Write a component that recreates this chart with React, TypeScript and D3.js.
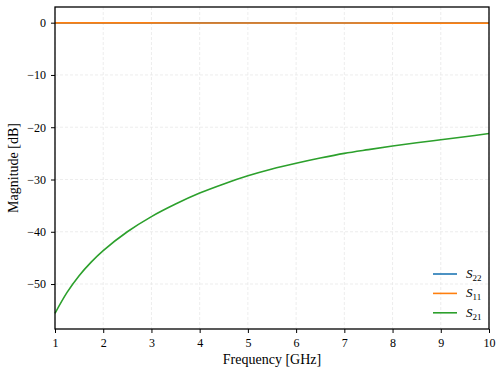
import * as d3 from "d3";
import { useEffect, useRef } from "react";

// frequency points (GHz)
const freq = [1, 1.25, 1.5, 1.75, 2, 2.5, 3, 3.5, 4, 4.5, 5, 5.5, 6, 6.5, 7, 7.5, 8, 8.5, 9, 9.5, 10];
const s21 = [-55.6, -51.6, -48.4, -45.8, -43.6, -40.0, -37.1, -34.7, -32.6, -30.85, -29.3, -28.0, -26.9, -25.9, -25.0, -24.28, -23.6, -22.98, -22.4, -21.82, -21.2];
// reflection terms stay flat near 0 dB
const freqFlat = [1, 4, 7, 10];
const s22 = [-0.03, -0.04, -0.06, -0.08];
const s11 = [-0.04, -0.05, -0.07, -0.09];

const xTicks = [1, 2, 3, 4, 5, 6, 7, 8, 9, 10];
const yTicks = [0, -10, -20, -30, -40, -50];

const series = [
  { name: "22", x: freqFlat, y: s22, color: "#1f77b4" },
  { name: "11", x: freqFlat, y: s11, color: "#ff7f0e" },
  { name: "21", x: freq, y: s21, color: "#2ca02c" },
];

const App = () => {
  const svgRef = useRef<SVGSVGElement>(null);

  useEffect(() => {
    const w = 504;
    const h = 375;
    const m = { left: 55, right: 489, top: 7, bottom: 329 };
    const font = "'Liberation Serif', 'DejaVu Serif', serif";

    const svg = d3.select(svgRef.current).attr("width", w).attr("height", h);
    svg.selectAll("*").remove();

    const x = d3.scaleLinear().domain([1, 10]).range([m.left, m.right]);
    const y = d3.scaleLinear().domain([-58.6, 3.0]).range([m.bottom, m.top]);

    // grid
    const grid = svg.append("g");
    grid.selectAll(".gx")
      .data(xTicks)
      .join("line")
      .attr("x1", d => x(d)).attr("x2", d => x(d))
      .attr("y1", m.top).attr("y2", m.bottom)
      .attr("stroke", "#e8e8e8").attr("stroke-width", 0.8)
      .attr("stroke-dasharray", "3,2");
    grid.selectAll(".gy")
      .data(yTicks)
      .join("line")
      .attr("y1", d => y(d)).attr("y2", d => y(d))
      .attr("x1", m.left).attr("x2", m.right)
      .attr("stroke", "#e8e8e8").attr("stroke-width", 0.8)
      .attr("stroke-dasharray", "3,2");

    // lines
    const line = d3.line<[number, number]>()
      .x(d => x(d[0]))
      .y(d => y(d[1]))
      .curve(d3.curveCatmullRom);
    series.forEach(s => {
      svg.append("path")
        .datum(s.x.map((v, i) => [v, s.y[i]] as [number, number]))
        .attr("d", line)
        .attr("fill", "none")
        .attr("stroke", s.color)
        .attr("stroke-width", 1.6);
    });

    // axes
    const xAxis = d3.axisBottom(x).tickValues(xTicks).tickSize(4).tickPadding(5)
      .tickFormat(d => String(d));
    const yAxis = d3.axisLeft(y).tickValues(yTicks).tickSize(4).tickPadding(5)
      .tickFormat(d => (+d < 0 ? "\u2212" + Math.abs(+d) : String(d)));

    const gx = svg.append("g")
      .attr("transform", `translate(0, ${m.bottom})`)
      .call(xAxis);
    const gy = svg.append("g")
      .attr("transform", `translate(${m.left}, 0)`)
      .call(yAxis);
    [gx, gy].forEach(g => {
      g.select(".domain").remove();
      g.selectAll("line").attr("stroke", "#000").attr("stroke-width", 1);
      g.selectAll("text").attr("font-family", font).attr("font-size", 12).attr("fill", "#000");
    });

    // frame
    svg.append("rect")
      .attr("x", m.left).attr("y", m.top)
      .attr("width", m.right - m.left).attr("height", m.bottom - m.top)
      .attr("fill", "none").attr("stroke", "#000").attr("stroke-width", 1.3);

    // axis labels
    svg.append("text")
      .attr("x", (m.left + m.right) / 2).attr("y", 364)
      .attr("text-anchor", "middle")
      .attr("font-family", font).attr("font-size", 14)
      .text("Frequency [GHz]");
    svg.append("text")
      .attr("transform", `translate(18, ${(m.top + m.bottom) / 2}) rotate(-90)`)
      .attr("text-anchor", "middle")
      .attr("font-family", font).attr("font-size", 14)
      .text("Magnitude [dB]");

    // legend
    const lg = svg.append("g");
    series.forEach((s, i) => {
      const ly = 274 + i * 19.4;
      lg.append("line")
        .attr("x1", 433).attr("x2", 457)
        .attr("y1", ly).attr("y2", ly)
        .attr("stroke", s.color).attr("stroke-width", 1.6);
      const t = lg.append("text")
        .attr("x", 466).attr("y", ly + 4)
        .attr("font-family", font).attr("font-size", 13);
      t.append("tspan").attr("font-style", "italic").text("S");
      t.append("tspan").attr("font-size", 9).attr("dy", 3).text(s.name);
    });
  }, []);

  return (
    <div style={{ position: "absolute", left: 0, top: 0 }}>
      <svg ref={svgRef}></svg>
    </div>
  );
};

export default App;
